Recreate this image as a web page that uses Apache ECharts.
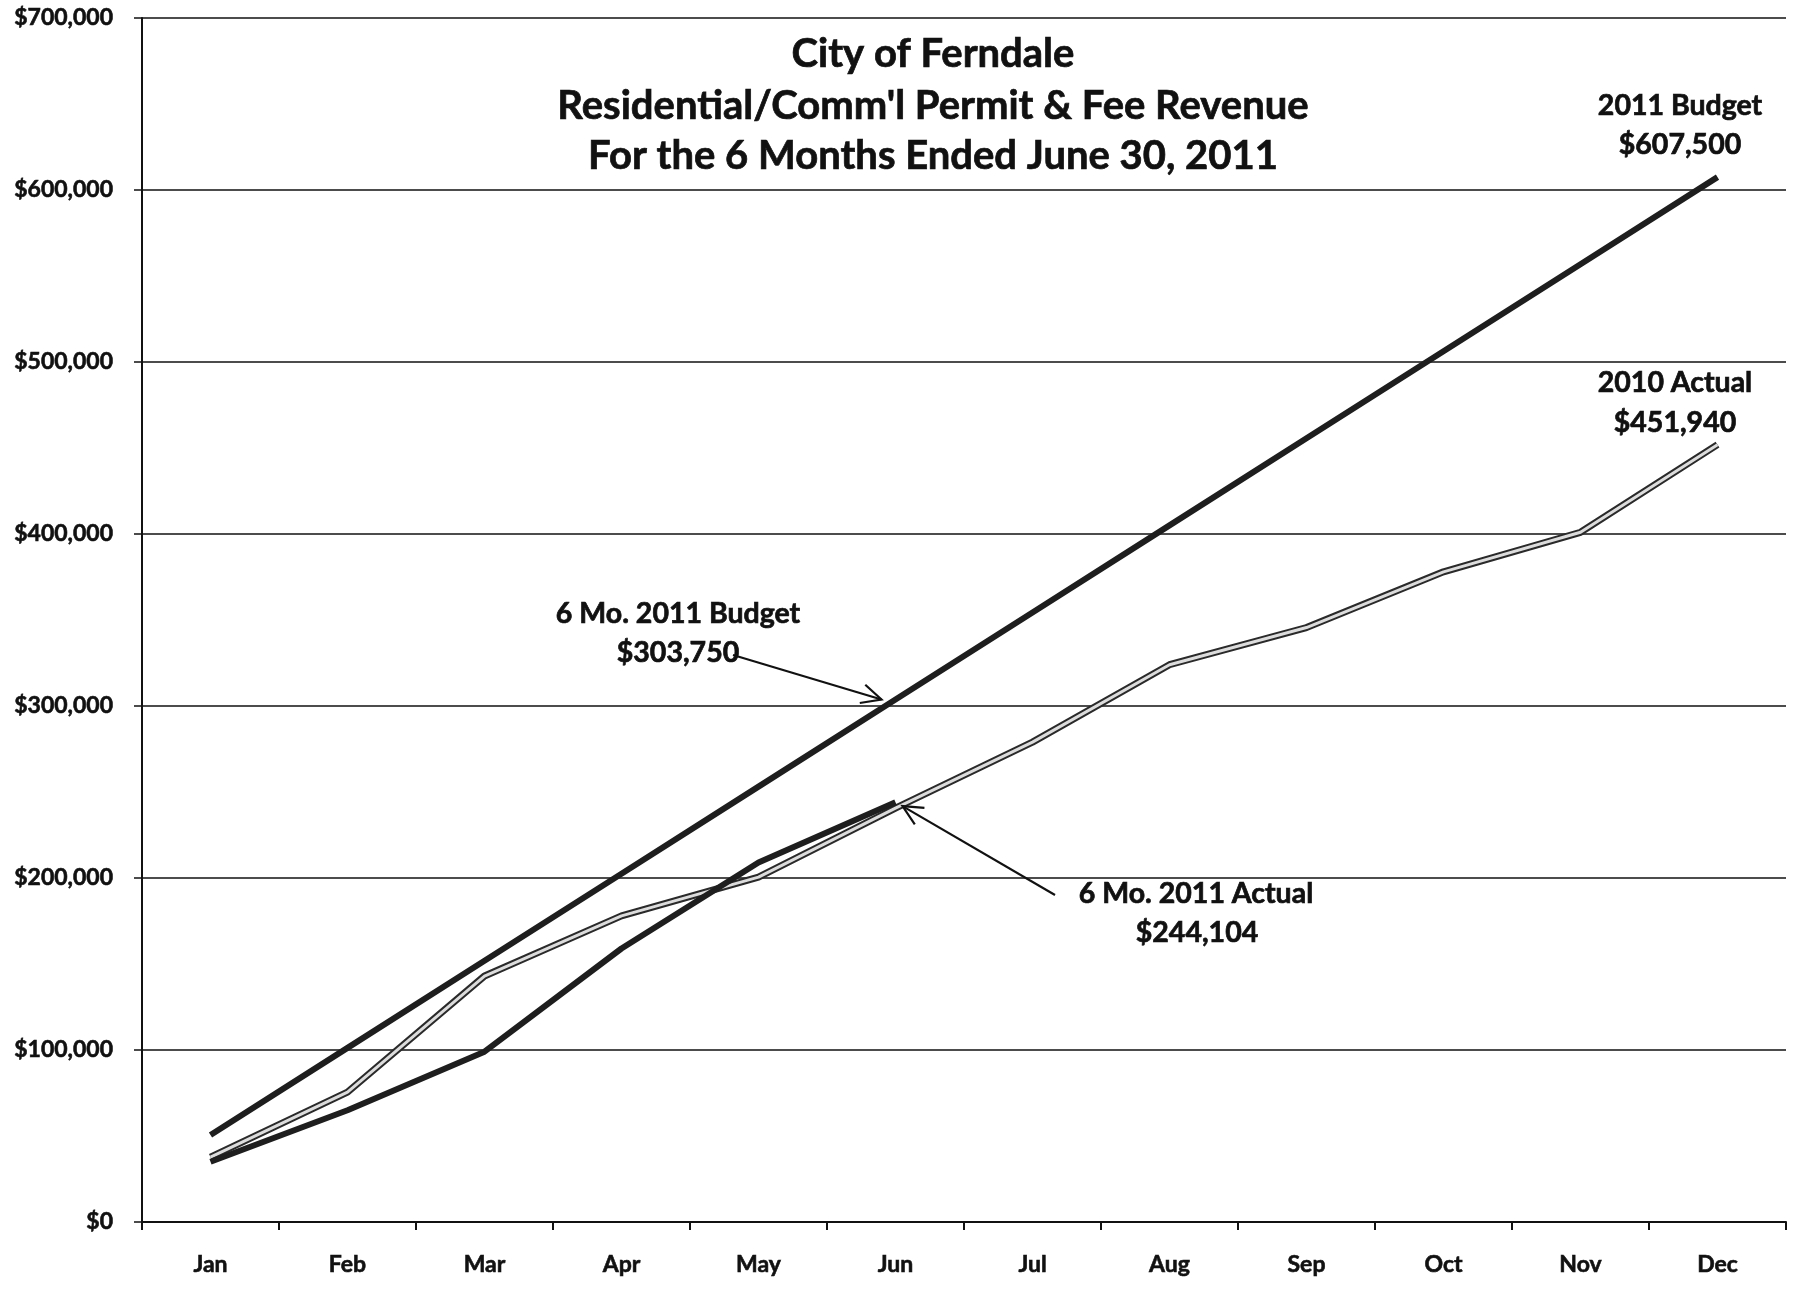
<!DOCTYPE html>
<html>
<head>
<meta charset="utf-8">
<script src="https://cdn.jsdelivr.net/npm/echarts@6/dist/echarts.min.js"></script>
<style>
html,body{margin:0;padding:0;background:#fff;}
#chart{width:1802px;height:1294px;}
</style>
</head>
<body>
<div id="chart"></div>
<script>
const months = ['Jan','Feb','Mar','Apr','May','Jun','Jul','Aug','Sep','Oct','Nov','Dec'];
const budget2011 = [50625, 101250, 151875, 202500, 253125, 303750, 354375, 405000, 455625, 506250, 556875, 607500];
const actual2011 = [35000, 65000, 99000, 159000, 209000, 244104];
const actual2010 = [37700, 75500, 143000, 178000, 200500, 240600, 279000, 324000, 345600, 378000, 401000, 451940];
const yTicks = [0, 100000, 200000, 300000, 400000, 500000, 600000, 700000];

const titleLines = ['City of Ferndale', "Residential/Comm'l Permit & Fee Revenue", 'For the 6 Months Ended June 30, 2011'];

const FONT = 'Lato';
const INK = '#111';
const chart = echarts.init(document.getElementById('chart'));

function fmt(v){ return '$' + v.toString().replace(/\B(?=(\d{3})+(?!\d))/g, ','); }

const option = {
  animation: false,
  backgroundColor: '#ffffff',
  grid: { left: 142, right: 16, top: 18, bottom: 72, containLabel: false },
  xAxis: {
    type: 'category',
    data: months,
    boundaryGap: true,
    axisLine: { lineStyle: { color: INK, width: 2 } },
    axisTick: { show: true, length: 8, lineStyle: { color: INK, width: 2 } },
    axisLabel: { color: INK, fontFamily: FONT, fontWeight: 'bold', fontSize: 23, margin: 31,
      textBorderColor: INK, textBorderWidth: 0.6 },
    splitLine: { show: false }
  },
  yAxis: {
    type: 'value',
    min: yTicks[0],
    max: yTicks[yTicks.length - 1],
    interval: 100000,
    axisLine: { show: true, lineStyle: { color: INK, width: 2 } },
    axisTick: { show: true, length: 8, lineStyle: { color: INK, width: 1.5 } },
    axisLabel: { color: INK, fontFamily: FONT, fontWeight: 'bold', fontSize: 23, margin: 29, formatter: fmt,
      textBorderColor: INK, textBorderWidth: 0.6 },
    splitLine: { show: true, lineStyle: { color: INK, width: 1.5 } }
  },
  series: [
    { name: '2010 Actual outline', type: 'line', data: actual2010, symbol: 'none', z: 3,
      lineStyle: { color: '#2a2a2a', width: 7 } },
    { name: '2010 Actual', type: 'line', data: actual2010, symbol: 'none', z: 4,
      lineStyle: { color: '#dcdcdc', width: 3 } },
    { name: '2011 Budget', type: 'line', data: budget2011, symbol: 'none', z: 5,
      lineStyle: { color: '#1e1e1e', width: 6 } },
    { name: '6 Mo. 2011 Actual', type: 'line', data: actual2011, symbol: 'none', z: 6,
      lineStyle: { color: '#1e1e1e', width: 6 } }
  ]
};
chart.setOption(option);

function arrow(fromX, fromY, toX, toY){
  const ang = Math.atan2(toY - fromY, toX - fromX);
  const L = 22, spread = 0.45;
  const a1 = [toX - L*Math.cos(ang - spread), toY - L*Math.sin(ang - spread)];
  const a2 = [toX - L*Math.cos(ang + spread), toY - L*Math.sin(ang + spread)];
  return [
    { type: 'line', z: 20, shape: { x1: fromX, y1: fromY, x2: toX, y2: toY }, style: { stroke: INK, lineWidth: 2.2 } },
    { type: 'polyline', z: 20, shape: { points: [a1, [toX, toY], a2] }, style: { stroke: INK, lineWidth: 2.2, fill: null } }
  ];
}

function txt(x, y, text, size){
  return { type: 'text', z: 30, x: x, y: y, style: { text: text, fill: INK, font: 'bold ' + size + 'px ' + FONT,
    align: 'center', verticalAlign: 'middle', stroke: INK, lineWidth: 0.7 } };
}

const pBud = chart.convertToPixel({ gridIndex: 0 }, [months[5], budget2011[5]]);
const pAct = chart.convertToPixel({ gridIndex: 0 }, [months[5], actual2011[5]]);

const graphics = [];
graphics.push(txt(933, 54, titleLines[0], 40));
graphics.push(txt(933, 106, titleLines[1], 40));
graphics.push(txt(933, 156, titleLines[2], 40));

graphics.push(txt(1680, 106, '2011 Budget', 28.5));
graphics.push(txt(1680, 145, fmt(budget2011[11]), 28.5));
graphics.push(txt(1675, 383, '2010 Actual', 28.5));
graphics.push(txt(1675, 423, fmt(actual2010[11]), 28.5));
graphics.push(txt(678, 614, '6 Mo. 2011 Budget', 28.5));
graphics.push(txt(678, 653, fmt(budget2011[5]), 28.5));
graphics.push(txt(1196, 894, '6 Mo. 2011 Actual', 28.5));
graphics.push(txt(1197, 933, fmt(actual2011[5]), 28.5));

arrow(733, 655, pBud[0] - 14, pBud[1]).forEach(g => graphics.push(g));
arrow(1055, 895, pAct[0] + 7, pAct[1] + 4).forEach(g => graphics.push(g));

chart.setOption({ graphic: graphics });
</script>
</body>
</html>
